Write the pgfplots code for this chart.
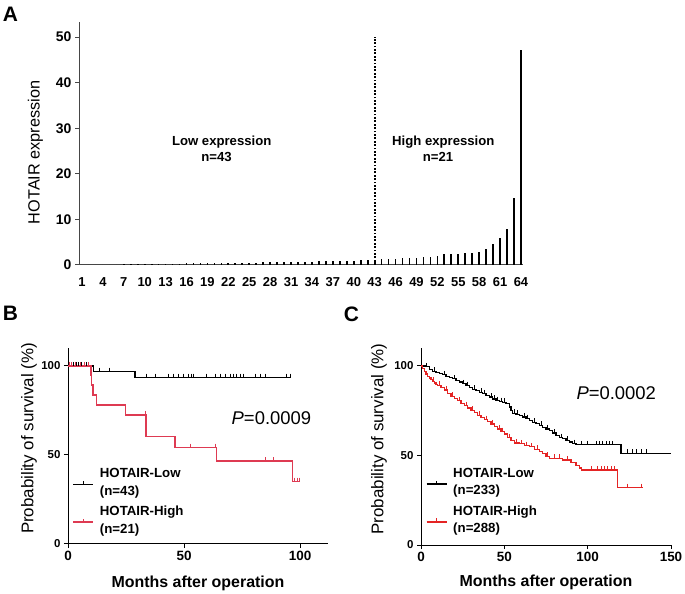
\documentclass[border=0pt]{standalone}
\usepackage{fontspec}
\setmainfont{Liberation Sans}
\usepackage{pgfplots}
\pgfplotsset{compat=1.18}

\definecolor{axisgray}{RGB}{70,70,70}
\definecolor{kmredB}{RGB}{222,58,82}
\definecolor{kmredC}{RGB}{228,36,36}
\newcommand{\fsz}[2]{\fontsize{#1}{#2}\selectfont}

\pgfplotsset{
  every axis/.append style={/pgf/number format/assume math mode=true},
  km/.style={
    scale only axis,
    axis x line*=bottom, axis y line*=left,
    axis line style={line width=1bp, black},
    tick style={line width=1bp, black},
    tick align=outside, major tick length=4bp,
    ymin=0, ymax=110, ytick={0,50,100}, xmin=0,
    yticklabel style={font=\bfseries\fsz{11.5}{12}},
    xticklabel style={font=\bfseries\fsz{13.5}{14}},
    xlabel={Months after operation},
    xlabel style={font=\bfseries\fsz{16}{18}, anchor=base},
    ylabel={Probability of survival (\%)},
    ylabel style={font=\fsz{17}{18}, anchor=center},
    legend cell align=left,
    legend style={draw=none, fill=none, inner sep=0pt, anchor=north west, row sep=5bp,
      font=\bfseries\fsz{13.3}{18}, cells={anchor=west, align=left}},
  },
  kmleg/.style={legend image code/.code={%
      \draw[##1, line width=1.4bp] (0bp,-2bp) -- (20bp,-2bp);
      \draw[##1, line width=0.9bp] (10bp,-2bp) -- (10bp,1.5bp);
      \path (24bp,0bp);}},
  censor/.style={only marks, mark=|, mark size=2bp,
    mark options={yshift=2bp, line width=0.9bp}, forget plot},
}

\begin{document}
\begin{tikzpicture}
\useasboundingbox (0,0) rectangle (685bp,594bp);

% ---------------- A ----------------
\begin{axis}[
  scale only axis, at={(79bp,329bp)}, anchor=south west,
  width=444bp, height=243bp,
  xmin=0.57, xmax=64.29, ymin=0, ymax=53.3,
  axis x line*=bottom, axis y line*=left,
  axis line style={line width=1bp, axisgray},
  tick style={line width=1bp, axisgray},
  tick align=outside, major tick length=4bp,
  xtick={1,4,...,64}, ytick={0,10,...,50},
  x tick style={draw=none},
  xticklabel style={font=\bfseries\fsz{13}{14}, yshift=-5bp},
  yticklabel style={font=\bfseries\fsz{14}{14}},
  ylabel={HOTAIR expression},
  ylabel style={font=\fsz{16.3}{18}, at={(axis description cs:-0.098,0.463)}, anchor=center},
]
\addplot[ycomb, line width=1.7bp, black] table {
x y
1 0.03
2 0.04
3 0.05
4 0.06
5 0.08
6 0.10
7 0.12
8 0.15
9 0.18
10 0.20
11 0.22
12 0.25
13 0.28
14 0.30
15 0.32
16 0.34
17 0.36
18 0.38
19 0.40
20 0.42
21 0.44
22 0.46
23 0.48
24 0.50
25 0.52
26 0.54
27 0.56
28 0.58
29 0.61
30 0.64
31 0.67
32 0.70
33 0.73
34 0.76
35 0.79
36 0.82
37 0.85
38 0.88
39 0.91
40 0.95
41 1.00
42 1.06
43 1.12
44 1.24
45 1.30
46 1.33
47 1.46
48 1.54
49 1.60
50 1.83
51 1.86
52 1.97
53 2.35
54 2.41
55 2.50
56 2.56
57 2.70
58 2.92
59 3.40
60 4.50
61 5.85
62 7.80
63 14.6
64 47.1
};
\addplot[line width=2bp, dash pattern=on 1.8bp off 1.6bp, black] coordinates {(43,0) (43,50)};
\node[font=\bfseries\fsz{13.2}{14}, anchor=base] at (axis cs:21.05,26.3) {Low expression};
\node[font=\bfseries\fsz{13.2}{14}, anchor=base] at (axis cs:20.3,22.65) {n=43};
\node[font=\bfseries\fsz{13.2}{14}, anchor=base] at (axis cs:52.85,26.3) {High expression};
\node[font=\bfseries\fsz{13.2}{14}, anchor=base] at (axis cs:52.1,22.65) {n=21};
\end{axis}

% ---------------- B ----------------
\begin{axis}[km,
  at={(68bp,50bp)}, anchor=south west,
  width=260bp, height=195.8bp,
  xmax=112, xtick={0,50,100},
  xlabel style={at={(axis description cs:0.5,-0.22)}},
  ylabel style={at={(axis description cs:-0.15,0.539)}},
  legend style={at={(axis description cs:0.017,0.40)}},
]
\addplot[const plot, black, line width=1.2bp, kmleg] table {
x y
0 100
10.9 96.8
28.9 93.4
95.7 93.4
};
\addlegendentry{HOTAIR-Low\\(n=43)}
\addplot[censor, black] coordinates {
(2.3,100)(3.7,100)(4.4,100)(5.9,100)(8.1,100)(13.5,96.8)(17.8,96.8)
(33.9,93.4)(37.5,93.4)(43.2,93.4)(45.4,93.4)(47.5,93.4)(49.7,93.4)
(51.8,93.4)(53.3,93.4)(54.0,93.4)(59.8,93.4)(63.4,93.4)(65.5,93.4)
(67.7,93.4)(69.8,93.4)(71.3,93.4)(72.7,93.4)(74.1,93.4)(75.6,93.4)
(80.6,93.4)(82.8,93.4)(84.9,93.4)(94.3,93.4)(95.7,93.4)};
\addplot[const plot, kmredB, line width=1.2bp, kmleg] table {
x y
0 100
9.9 94.7
10.2 89.3
10.8 83.7
12.3 78.1
24.6 72.5
33.6 60.3
46.1 54.1
64.1 46.6
96.7 35.0
100 35.0
};
\addlegendentry{HOTAIR-High\\(n=21)}
\addplot[censor, kmredB] coordinates {
(0.5,100)(1.6,100)(3,100)(5.2,100)(7.3,100)(8.7,100)(33.2,72.5)
(52.6,54.1)(63.4,54.1)(84.9,46.6)(88.5,46.6)(97.5,35)(98.7,35)(99.9,35)};
\node[font=\fsz{18.5}{20}, anchor=base west] at (axis cs:69,67.4) {\textit{P}=0.0009};
\end{axis}

% ---------------- C ----------------
\begin{axis}[km,
  at={(421bp,49bp)}, anchor=south west,
  width=250bp, height=197bp,
  xmax=150, xtick={0,50,100,150},
  xlabel style={at={(axis description cs:0.5,-0.212)}},
  ylabel style={at={(axis description cs:-0.168,0.538)}},
  legend style={at={(axis description cs:0.019,0.403)}},
]
\addplot[const plot, black, line width=1.2bp, kmleg] table {
x y
0 100
3 99.5
5 98
7 97
9 96.3
11 95.8
13 95
15 94.3
17 93.5
19 92.8
21 91.8
23 91
25 90
27 89
29 88
31 87
33 86.2
35 85.3
37 84.4
39 83.5
41 82.6
43 81.5
45 80.6
47 80
49 79.6
51 79
53 77
54 75
55 73.6
57 73
59 72.2
61 71.5
63 70.5
65 69.5
67 68.5
69 67.8
71 66.8
73 65.8
75 64.8
77 63.8
79 62.5
81 61.2
83 60
85 59.3
87 58.5
89 57.5
91 56.6
93 55.9
120 51.2
150 51.2
};
\addlegendentry{HOTAIR-Low\\(n=233)}
\addplot[censor, black] coordinates {
(3.5,99.5)(8,97)(14,95)(20,92.8)(25.5,90)(28,89)(32,87)(36,85.3)(38,84.4)
(42,82.6)(44,81.5)(46,80.6)(48,80)(50,79.6)(56,73.6)(58,73)(62,71.5)
(64,70.5)(68,68.5)(72,66.8)(76,64.8)(80,62.5)(84,60)(88,58.5)(92,56.6)
(96,55.9)(100,55.9)(105,55.9)(107,55.9)(109,55.9)(111,55.9)(113,55.9)(115,55.9)
(124,51.2)(127,51.2)(129,51.2)(132,51.2)(135,51.2)};
\addplot[const plot, kmredC, line width=1.2bp, kmleg] table {
x y
0 100
1 98.5
2 97
3 95.5
4 94.3
5 93.2
6 92.2
7 91.3
8 90.5
9 89.8
10 89.2
12 88
14 86.5
16 84.5
18 83
20 81.8
22 80.5
24 79.2
26 77.8
28 76.5
30 75.2
32 73.8
34 72.5
36 71.2
38 70
40 68.8
42 67.6
44 66.2
46 64.8
48 63.3
50 62
52 60
54 58.2
56 57
59 56.5
62 55.5
65 54.8
68 53.5
71 52.3
73 51
75 49.5
77 48.4
85 47.5
90 46
93 44.5
95 43
96.5 41.9
118 32
133 32
};
\addlegendentry{HOTAIR-High\\(n=288)}
\addplot[censor, kmredC] coordinates {
(7.5,91.3)(11,89.2)(15,86.5)(19,83)(23,80.5)(27,77.8)(31,75.2)(35,72.5)
(39,70)(43,67.6)(47,64.8)(49,63.3)(53,60)(57,57)(60,56.5)(63,55.5)(66,54.8)
(70,53.5)(76,49.5)(80,48.4)(83,48.4)(88,47.5)(102,41.9)(106,41.9)(108,41.9)
(110,41.9)(112,41.9)(114,41.9)(116,41.9)(124,32)(132,32)};
\node[font=\fsz{18.5}{20}, anchor=base west] at (axis cs:91.2,81) {\textit{P}=0.0002};
\end{axis}

\node[font=\bfseries\fsz{21}{22}] at (10.5bp,579.5bp) {A};
\node[font=\bfseries\fsz{21}{22}] at (10.5bp,281bp) {B};
\node[font=\bfseries\fsz{21}{22}] at (351.5bp,279.5bp) {C};
\end{tikzpicture}
\end{document}
